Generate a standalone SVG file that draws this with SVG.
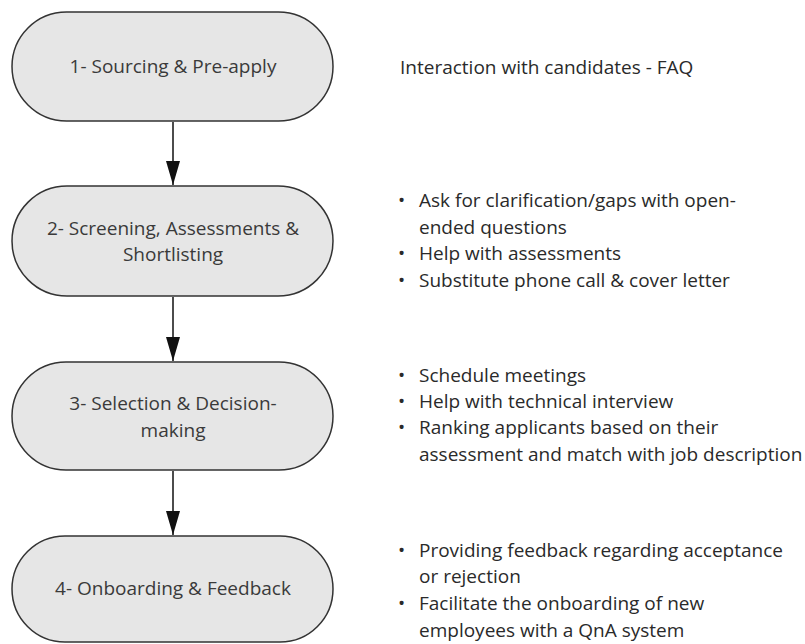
<svg xmlns="http://www.w3.org/2000/svg" width="805" height="644" viewBox="0 0 805 644">
<style>
.node{fill:#e6e6e6;stroke:#333;stroke-width:1.5}
.lbl{font-family:"Open Sans","Liberation Sans",sans-serif;font-size:19px;fill:#3a3a3a;text-anchor:middle}
.txt{font-family:"Open Sans","Liberation Sans",sans-serif;font-size:19px;fill:#2a2a2a}
.conn{stroke:#111;stroke-width:1.5;fill:none}
</style>
<defs>
<marker id="ah" markerWidth="24" markerHeight="14" refX="24" refY="7" orient="auto" markerUnits="userSpaceOnUse" viewBox="0 0 24 14">
<path d="M0,0 L24,7 L0,14 Z" fill="#111"/>
</marker>
</defs>
<rect width="805" height="644" fill="#fff"/>
<g id="connectors">
<line class="conn" x1="173" y1="122" x2="173" y2="185" marker-end="url(#ah)"/>
<line class="conn" x1="173" y1="297" x2="173" y2="361" marker-end="url(#ah)"/>
<line class="conn" x1="173" y1="471" x2="173" y2="535" marker-end="url(#ah)"/>
</g>
<g id="node1">
<rect class="node" x="12" y="12" width="321" height="109" rx="54.5"/>
<text class="lbl" x="173" y="73">1- Sourcing &amp; Pre-apply</text>
</g>
<g id="node2">
<rect class="node" x="12" y="186" width="321" height="110" rx="55"/>
<text class="lbl" x="173" y="235">2- Screening, Assessments &amp;</text>
<text class="lbl" x="173" y="261">Shortlisting</text>
</g>
<g id="node3">
<rect class="node" x="12" y="362" width="321" height="108" rx="54"/>
<text class="lbl" x="173" y="410">3- Selection &amp; Decision-</text>
<text class="lbl" x="173" y="437">making</text>
</g>
<g id="node4">
<rect class="node" x="12" y="536" width="321" height="106" rx="53"/>
<text class="lbl" x="173" y="595">4- Onboarding &amp; Feedback</text>
</g>
<g id="notes">
<text class="txt" x="400" y="74">Interaction with candidates - FAQ</text>
<g id="notes2">
<text class="txt" x="398" y="207">•</text><text class="txt" x="419" y="207">Ask for clarification/gaps with open-</text>
<text class="txt" x="419" y="234">ended questions</text>
<text class="txt" x="398" y="260">•</text><text class="txt" x="419" y="260">Help with assessments</text>
<text class="txt" x="398" y="287">•</text><text class="txt" x="419" y="287">Substitute phone call &amp; cover letter</text>
</g>
<g id="notes3">
<text class="txt" x="398" y="382">•</text><text class="txt" x="419" y="382">Schedule meetings</text>
<text class="txt" x="398" y="408">•</text><text class="txt" x="419" y="408">Help with technical interview</text>
<text class="txt" x="398" y="434">•</text><text class="txt" x="419" y="434">Ranking applicants based on their</text>
<text class="txt" x="419" y="461">assessment and match with job description</text>
</g>
<g id="notes4">
<text class="txt" x="398" y="557">•</text><text class="txt" x="419" y="557">Providing feedback regarding acceptance</text>
<text class="txt" x="419" y="583">or rejection</text>
<text class="txt" x="398" y="610">•</text><text class="txt" x="419" y="610">Facilitate the onboarding of new</text>
<text class="txt" x="419" y="637">employees with a QnA system</text>
</g>
</g>
</svg>
